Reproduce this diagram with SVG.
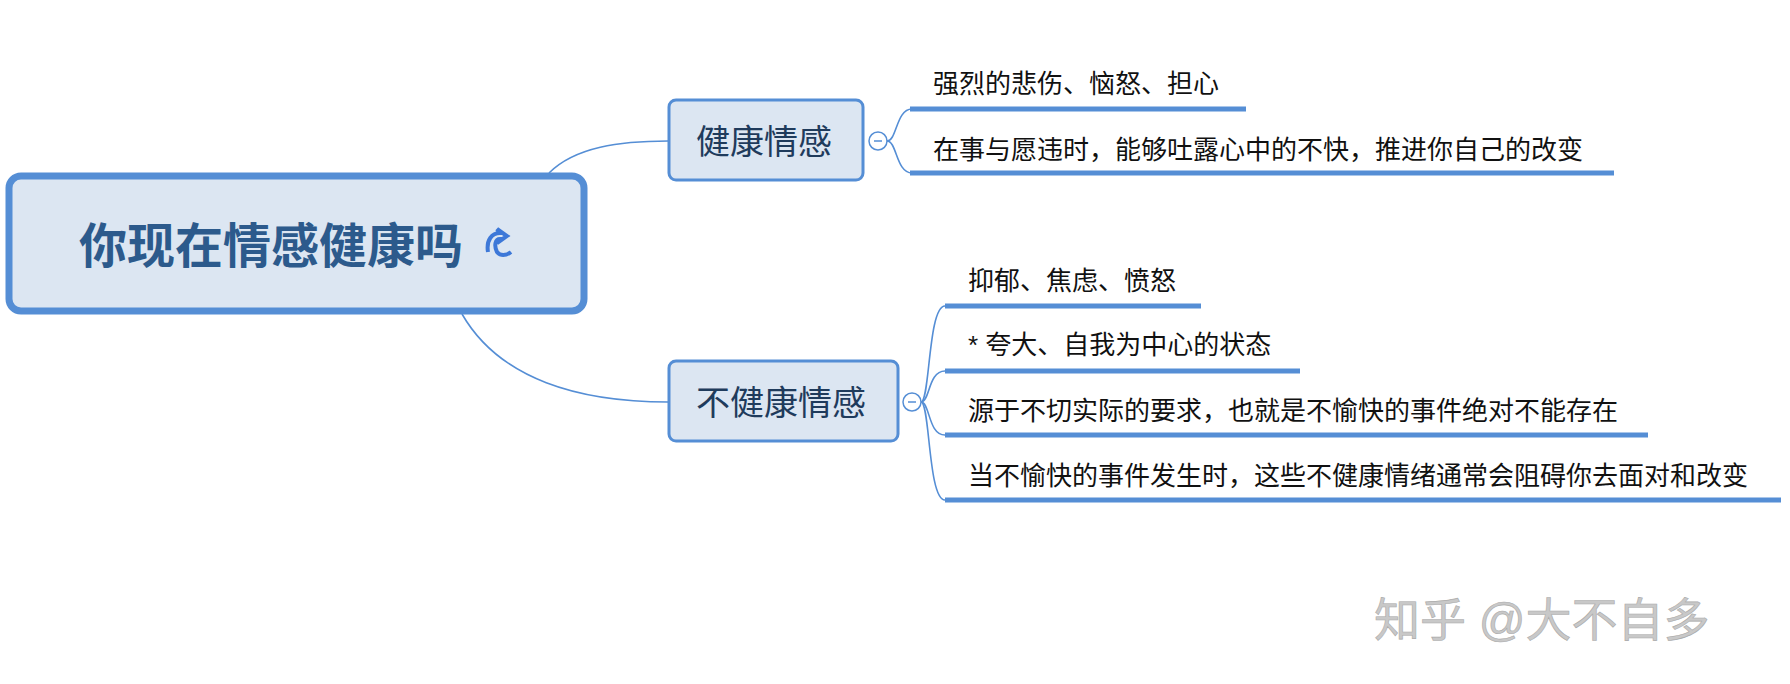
<svg xmlns="http://www.w3.org/2000/svg" width="1790" height="684" viewBox="0 0 1790 684">
<style>
.box{fill:#dce6f2;stroke:#558ed5}
.t{font-family:"Liberation Sans","Noto Sans CJK SC",sans-serif;dominant-baseline:central}
.leaf{font-size:26px;fill:#111}
.ul{stroke:#558ed5;stroke-width:5}
.c{fill:none;stroke:#558ed5;stroke-width:1.6}
</style>
<rect width="1790" height="684" fill="#fff"/>
<g id="connectors">
<path class="c" d="M549,173 C575,147 620,141 668,141"/>
<path class="c" d="M462,314 C500,380 580,402 668,402"/>
<path class="c" d="M887,141 C897,141 896,109 912,109"/>
<path class="c" d="M887,141 C897,141 896,173 912,173"/>
<path class="c" d="M921,402 C930,402 928,306 945,306"/>
<path class="c" d="M921,402 C930,402 928,371 945,371"/>
<path class="c" d="M921,402 C930,402 928,435 945,435"/>
<path class="c" d="M921,402 C930,402 928,500 945,500"/>
</g>
<g id="root">
<rect class="box" x="9" y="176" width="575" height="135" rx="12" stroke-width="7"/>
<text class="t" x="79" y="246" font-size="48" font-weight="bold" fill="#2c5a8c">你现在情感健康吗</text>
<path d="M488,252 C486,240 492,233 500,233 L497,229 L507,236 L497,243 L500,239 C495,239 494,246 497,252 C500,256 506,256 511,252" fill="none" stroke="#3d78d8" stroke-width="4"/>
</g>
<g id="healthy">
<rect class="box" x="669" y="100" width="194" height="80" rx="7" stroke-width="3"/>
<text class="t" x="696" y="142" font-size="34" fill="#1f3b5c">健康情感</text>
<circle cx="878" cy="141" r="9" fill="#fff" stroke="#558ed5" stroke-width="1.5"/>
<line x1="874" y1="141" x2="882" y2="141" stroke="#558ed5" stroke-width="1.5"/>
</g>
<g id="unhealthy">
<rect class="box" x="669" y="361" width="229" height="80" rx="7" stroke-width="3"/>
<text class="t" x="696" y="403" font-size="34" fill="#1f3b5c">不健康情感</text>
<circle cx="912" cy="402" r="9" fill="#fff" stroke="#558ed5" stroke-width="1.5"/>
<line x1="908" y1="402" x2="916" y2="402" stroke="#558ed5" stroke-width="1.5"/>
</g>
<g id="h1"><text class="t leaf" x="933" y="84">强烈的悲伤、恼怒、担心</text><line class="ul" x1="910" y1="109" x2="1246" y2="109"/></g>
<g id="h2"><text class="t leaf" x="933" y="150">在事与愿违时，能够吐露心中的不快，推进你自己的改变</text><line class="ul" x1="910" y1="173" x2="1614" y2="173"/></g>
<g id="u1"><text class="t leaf" x="968" y="281">抑郁、焦虑、愤怒</text><line class="ul" x1="945" y1="306" x2="1201" y2="306"/></g>
<g id="u2"><text class="t leaf" x="968" y="345">* 夸大、自我为中心的状态</text><line class="ul" x1="945" y1="371" x2="1300" y2="371"/></g>
<g id="u3"><text class="t leaf" x="968" y="411">源于不切实际的要求，也就是不愉快的事件绝对不能存在</text><line class="ul" x1="945" y1="435" x2="1648" y2="435"/></g>
<g id="u4"><text class="t leaf" x="968" y="476">当不愉快的事件发生时，这些不健康情绪通常会阻碍你去面对和改变</text><line class="ul" x1="945" y1="500" x2="1781" y2="500"/></g>
<text class="t" x="1374" y="620" font-size="46" fill="#c8c8c8" stroke="#aaa" stroke-width="0.6">知乎 @大不自多</text>
</svg>
